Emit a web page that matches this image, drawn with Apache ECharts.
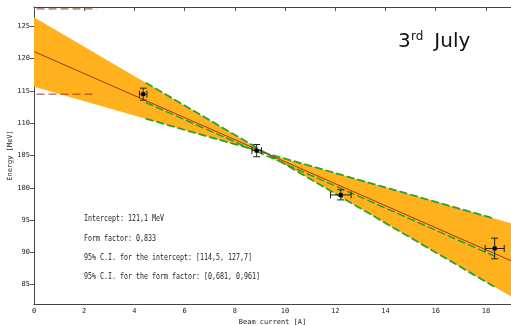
<!DOCTYPE html>
<html><head><meta charset="utf-8">
<script src="https://cdn.jsdelivr.net/npm/echarts@6/dist/echarts.min.js"></script>
<style>html,body{margin:0;padding:0;background:#fff}#c{width:511px;height:325px}</style>
</head><body><div id="c"></div>
<script>
// ---- data ----
const xTicks = [0, 2, 4, 6, 8, 10, 12, 14, 16, 18];
const yTicks = [85, 90, 95, 100, 105, 110, 115, 120, 125];
const pointX = [4.35, 8.87, 12.22, 18.35];
const pointY = [114.5, 105.75, 98.9, 90.6];
const pointXErr = [0.15, 0.19, 0.41, 0.38];
const pointYErr = [0.93, 0.95, 0.78, 1.6];
const fitX = [0, 19];
const fitY = [121.1, 88.7];
const bandX = [0, 9.24, 19];
const bandUpper = [126.4, 105.35, 94.5];
const bandLower = [115.65, 105.35, 83.15];
const greenX = [4.45, 18.35];
const greenSteepY = [116.27, 84.64];
const greenShallowY = [110.7, 95.2];
const greenMidY = [113.2, 89.4];
const ciInterceptX = [0.1, 2.5];
const ciInterceptLow = 114.5;
const ciInterceptHigh = 127.7;
const statLines = [
  'Intercept: 121,1 MeV',
  'Form factor: 0,833',
  '95% C.I. for the intercept: [114,5, 127,7]',
  '95% C.I. for the form factor: [0,681, 0,961]'
];

const chart = echarts.init(document.getElementById('c'), null, {renderer: 'canvas'});
const MONO = '"DejaVu Sans Mono", monospace';
const AX = '#444';
const pairs = (xs, ys) => xs.map((x, i) => [x, ys[i]]);

const option = {
  animation: false,
  backgroundColor: '#fff',
  grid: {left: 34, right: 0, top: 7, bottom: 21, containLabel: false, outerBoundsMode: 'none'},
  xAxis: [{
    type: 'value', min: 0, max: 19, position: 'bottom',
    name: 'Beam current [A]', nameLocation: 'middle', nameGap: 15, nameMoveOverlap: false,
    nameTextStyle: {fontFamily: MONO, fontSize: 7, color: '#222'},
    axisLine: {show: true, lineStyle: {color: AX, width: 1}},
    axisTick: {show: false},
    axisLabel: {customValues: xTicks, fontFamily: MONO, fontSize: 7, color: '#222', margin: 4},
    splitLine: {show: false}
  }, {
    type: 'value', min: 0, max: 19, position: 'top',
    axisLine: {show: true, lineStyle: {color: AX, width: 1}},
    axisTick: {show: true, inside: true, length: 4, customValues: xTicks, lineStyle: {color: '#555'}},
    axisLabel: {show: false},
    splitLine: {show: false}
  }],
  yAxis: [{
    type: 'value', min: 82, max: 128, position: 'left',
    name: 'Energy [MeV]', nameLocation: 'middle', nameGap: 20, nameMoveOverlap: false,
    nameTextStyle: {fontFamily: MONO, fontSize: 7, color: '#222'},
    axisLine: {show: true, lineStyle: {color: AX, width: 1}},
    axisTick: {show: false},
    axisLabel: {customValues: yTicks, fontFamily: MONO, fontSize: 7, color: '#222', margin: 4},
    splitLine: {show: false}
  }, {
    type: 'value', min: 82, max: 128, position: 'right',
    axisLine: {show: false},
    axisTick: {show: true, inside: true, length: 4, customValues: yTicks, lineStyle: {color: '#555'}},
    axisLabel: {show: false},
    splitLine: {show: false}
  }],
  series: [
    {
      type: 'custom', z: 1, clip: true,
      data: [[0, 0]],
      renderItem: function (params, api) {
        const up = bandX.map((x, i) => api.coord([x, bandUpper[i]]));
        const lo = bandX.map((x, i) => api.coord([x, bandLower[i]])).reverse();
        return {type: 'polygon', shape: {points: up.concat(lo)}, style: {fill: '#ffb21e', stroke: null}};
      },
      silent: true
    },
    {type: 'line', z: 3, data: pairs(greenX, greenSteepY), symbol: 'none',
     lineStyle: {color: '#2ca02c', width: 1.8, type: [8, 3]}},
    {type: 'line', z: 3, data: pairs(greenX, greenShallowY), symbol: 'none',
     lineStyle: {color: '#2ca02c', width: 1.8, type: [8, 3]}},
    {type: 'line', z: 3, data: pairs(greenX, greenMidY), symbol: 'none',
     lineStyle: {color: '#2ca02c', width: 1.5, type: [8, 3]}},
    {type: 'line', z: 4, data: pairs(fitX, fitY), symbol: 'none',
     lineStyle: {color: '#a8341a', width: 1}},
    {type: 'line', z: 4, data: [[ciInterceptX[0], ciInterceptHigh], [ciInterceptX[1], ciInterceptHigh]], symbol: 'none',
     lineStyle: {color: '#a03a28', width: 1, type: [8, 4]}},
    {type: 'line', z: 4, data: [[ciInterceptX[0], ciInterceptLow], [ciInterceptX[1], ciInterceptLow]], symbol: 'none',
     lineStyle: {color: '#a03a28', width: 1, type: [8, 4]}},
    {
      type: 'custom', z: 6,
      encode: {x: 0, y: 1},
      data: pointX.map((x, i) => [x, pointY[i], pointXErr[i], pointYErr[i]]),
      renderItem: function (params, api) {
        const x = api.value(0), y = api.value(1), ex = api.value(2), ey = api.value(3);
        const c = api.coord([x, y]);
        const l = api.coord([x - ex, y]), r = api.coord([x + ex, y]);
        const t = api.coord([x, y + ey]), b = api.coord([x, y - ey]);
        const cap = 3.5;
        const st = {stroke: '#222', lineWidth: 1};
        const ln = (x1, y1, x2, y2) => ({type: 'line', shape: {x1, y1, x2, y2}, style: st});
        return {type: 'group', children: [
          ln(c[0], t[1], c[0], b[1]),
          ln(c[0] - cap, t[1], c[0] + cap, t[1]),
          ln(c[0] - cap, b[1], c[0] + cap, b[1]),
          ln(l[0], c[1], r[0], c[1]),
          ln(l[0], c[1] - cap, l[0], c[1] + cap),
          ln(r[0], c[1] - cap, r[0], c[1] + cap),
          {type: 'rect', shape: {x: c[0] - 2, y: c[1] - 2, width: 4, height: 4}, style: {fill: '#000'}}
        ]};
      }
    }
  ],
  graphic: [
    {type: 'text', left: 398, top: 32, style: {text: '3', font: '20px "DejaVu Sans"', fill: '#111'}},
    {type: 'text', left: 411, top: 31, style: {text: 'rd', font: '12px "DejaVu Sans"', fill: '#111'}},
    {type: 'text', left: 428, top: 32, style: {text: ' July', font: '20px "DejaVu Sans"', fill: '#111'}}
  ].concat(statLines.map((s, i) => ({
    type: 'text', x: 84, y: [215, 234.5, 254, 273][i], scaleX: 0.83,
    style: {text: s, font: '8px "DejaVu Sans Mono"', fill: '#222'}
  })))
};
chart.setOption(option);
</script>
</body></html>
